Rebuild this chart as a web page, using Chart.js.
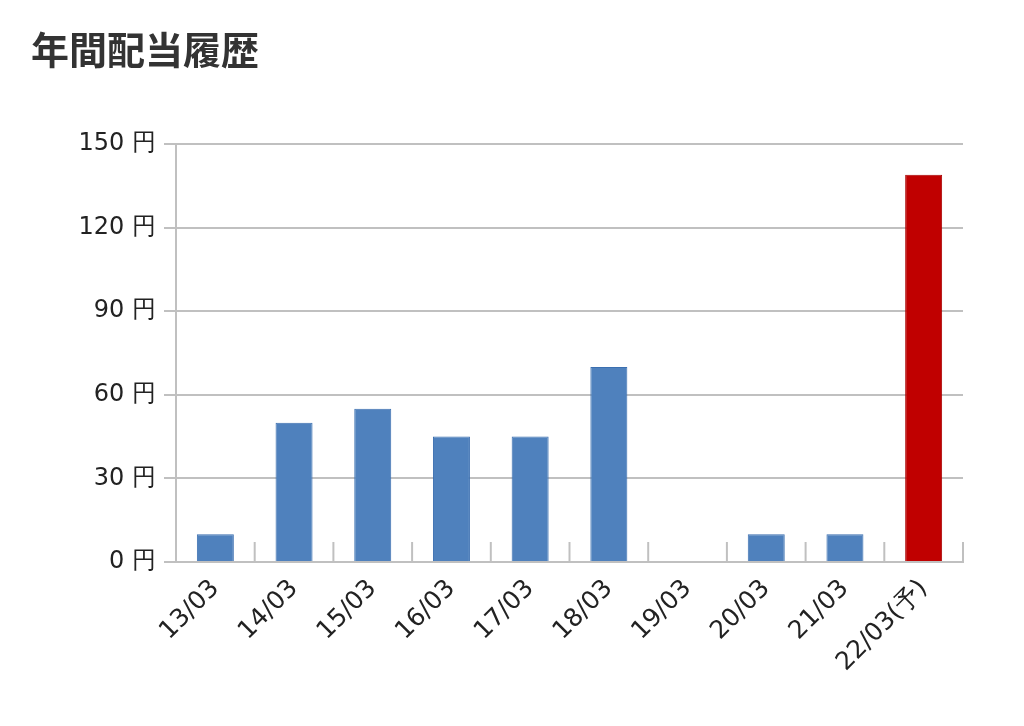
<!DOCTYPE html>
<html><head><meta charset="utf-8">
<script src="https://cdn.jsdelivr.net/npm/chart.js@4"></script>
<style>html,body{margin:0;padding:0;background:#fff;}
#t{position:absolute;left:31px;top:20px;font:bold 38px "Noto Sans CJK JP";color:#333;}
#w{position:absolute;left:0;top:0;width:1024px;height:726px;}</style></head>
<body><div id="w"><canvas id="c"></canvas></div><div id="t">年間配当履歴</div>
<script>
const categories=["13/03","14/03","15/03","16/03","17/03","18/03","19/03","20/03","21/03","22/03(予)"];
const dividends=[10,50,55,45,45,70,0,10,10,139];
const barColors=["#4f81bd","#4f81bd","#4f81bd","#4f81bd","#4f81bd","#4f81bd","#4f81bd","#4f81bd","#4f81bd","#c00000"];
const borderColors=["#3b6fb0","#3b6fb0","#3b6fb0","#3b6fb0","#3b6fb0","#3b6fb0","#3b6fb0","#3b6fb0","#3b6fb0","#a80000"];
const marks={id:'marks',afterDatasetsDraw(ch){const x=ch.scales.x,ctx=ch.ctx,b=ch.chartArea.bottom;ctx.save();ctx.strokeStyle='#c0c0c0';ctx.lineWidth=2;
for(let i=0;i<=categories.length;i++){const p=x.getPixelForValue(i-0.5);ctx.beginPath();ctx.moveTo(p,b);ctx.lineTo(p,b-20);ctx.stroke();}ctx.restore();}};
new Chart(document.getElementById('c'),{type:'bar',
data:{labels:categories,datasets:[{data:dividends,backgroundColor:barColors,borderColor:borderColors,borderWidth:1,barPercentage:0.47,categoryPercentage:1}]},
options:{responsive:true,maintainAspectRatio:false,animation:false,
layout:{padding:{top:144,right:61,left:0,bottom:0}},
plugins:{legend:{display:false},tooltip:{enabled:false}},
scales:{
y:{min:0,max:150,ticks:{stepSize:30,color:'#222',font:{family:'DejaVu Sans',size:24},callback:v=>v+' 円',padding:8},
grid:{color:'#c0c0c0',lineWidth:2,tickLength:12},border:{color:'#c0c0c0',width:2},afterFit(s){s.width=176;}},
x:{grid:{display:false},border:{color:'#c0c0c0',width:2},
ticks:{color:'#222',font:{family:'DejaVu Sans',size:25},maxRotation:45,minRotation:45,padding:4},afterFit(s){s.height=164;}}
}},plugins:[marks]});
</script></body></html>
